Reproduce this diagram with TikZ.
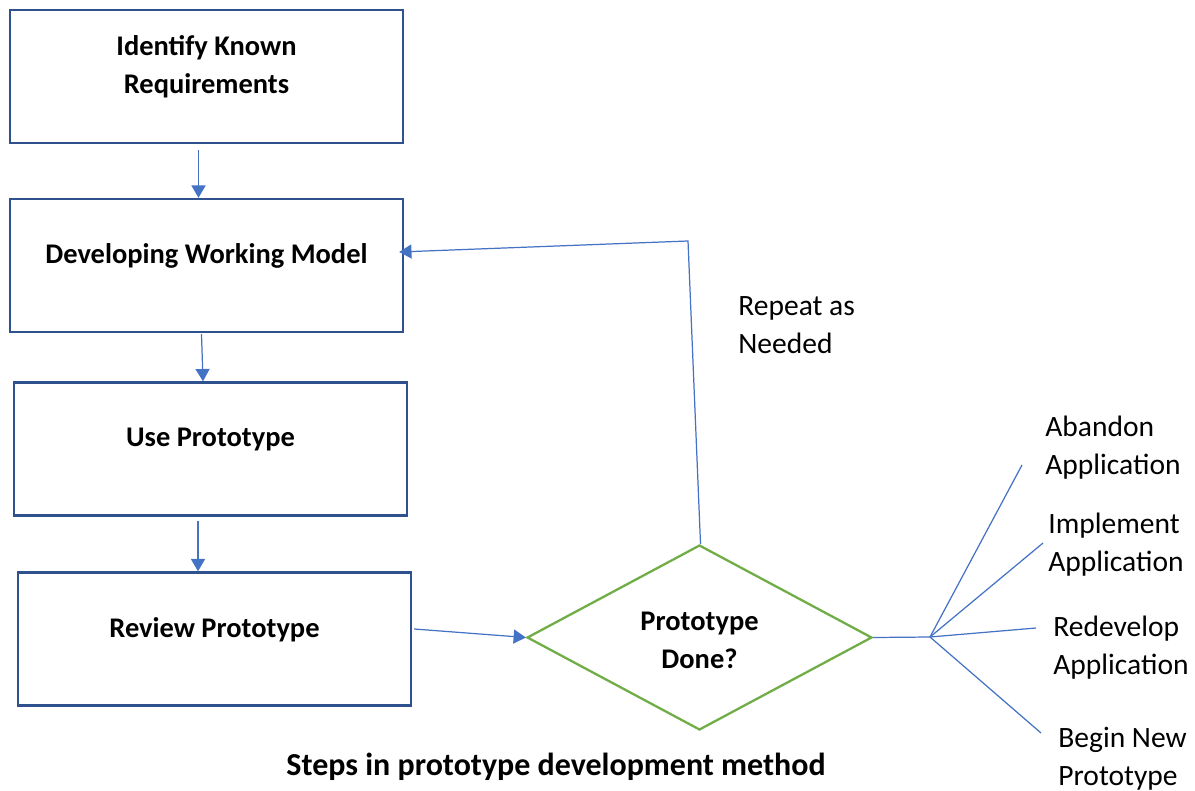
\documentclass[tikz,border=0pt]{standalone}
\usepackage{fontspec}
\setmainfont{Carlito}
\usetikzlibrary{shapes.geometric,arrows.meta}
\definecolor{boxblue}{HTML}{2F528F}
\definecolor{lineblue}{HTML}{4472C4}
\definecolor{decgreen}{HTML}{70AD47}
\tikzset{
  stepbox/.style={draw=boxblue, line width=1.4pt, minimum width=7.86cm, minimum height=2.66cm,
    align=center, text depth=0.47cm, font=\bfseries\fontsize{16.2}{21.5}\selectfont},
  flow/.style={draw=lineblue, line width=0.7pt},
  arr/.style={flow, -{Triangle[length=7pt,width=8pt]}},
  choice/.style={align=left, anchor=west, inner sep=0pt, font=\fontsize{16.8}{21.5}\selectfont},
}
\begin{document}
\begin{tikzpicture}[x=0.02cm,y=-0.02cm]
  \useasboundingbox (0,0) rectangle (1195,790);
  % the four steps
  \node[stepbox] (known) at (206.5,76.5) {Identify Known\\Requirements};
  \node[stepbox] (model) at (206.5,265.5) {Developing Working Model};
  \node[stepbox] (use) at (210.5,449) {Use Prototype};
  \node[stepbox] (review) at (214.5,639) {Review Prototype};
  \node[diamond, draw=decgreen, line width=1.3pt, minimum width=6.9cm, minimum height=3.7cm, inner sep=0pt,
    label={[align=center, yshift=-0.06cm, font=\bfseries\fontsize{16.2}{21.5}\selectfont]center:{Prototype\\Done?}}] (done) at (699.5,637.5) {};
  \draw[arr] ([shift={(-8,6)}]known.south) -- ([shift={(-8,0)}]model.north);
  \draw[arr] ([shift={(-5,1)}]model.south) -- ([shift={(-7.5,0)}]use.north);
  \draw[arr] ([shift={(-12.5,4)}]use.south) -- ([shift={(-16.5,0)}]review.north);
  \draw[arr] ([shift={(2,-10)}]review.east) -- (done.west);
  % loop back
  \coordinate (bend) at (688,241);
  \draw[arr] ([shift={(1,0)}]done.north) -- (bend) -- ([shift={(-5,-13.5)}]model.east);
  \node[choice] (repeat) at (738,325) {Repeat as\\Needed};
  % outcomes
  \coordinate (fork) at (930,637);
  \coordinate (toabandon) at (1022,465);
  \coordinate (toimplement) at (1043,543);
  \coordinate (toredevelop) at (1036,628);
  \coordinate (tobegin) at (1041,733);
  \draw[flow] (done.east) -- (fork);
  \foreach \t in {toabandon,toimplement,toredevelop,tobegin}
    \draw[flow] (fork) -- (\t);
  \node[choice] (abandon) at (1045,448) {Abandon\\Application};
  \node[choice] (implement) at (1048,545) {Implement\\Application};
  \node[choice] (redevelop) at (1053,648) {Redevelop\\Application};
  \node[choice] (begin) at (1058,759) {Begin New\\Prototype};
  \node[font=\bfseries\fontsize{18.2}{21.5}\selectfont] (caption) at (556,767) {Steps in prototype development method};
\end{tikzpicture}
\end{document}
